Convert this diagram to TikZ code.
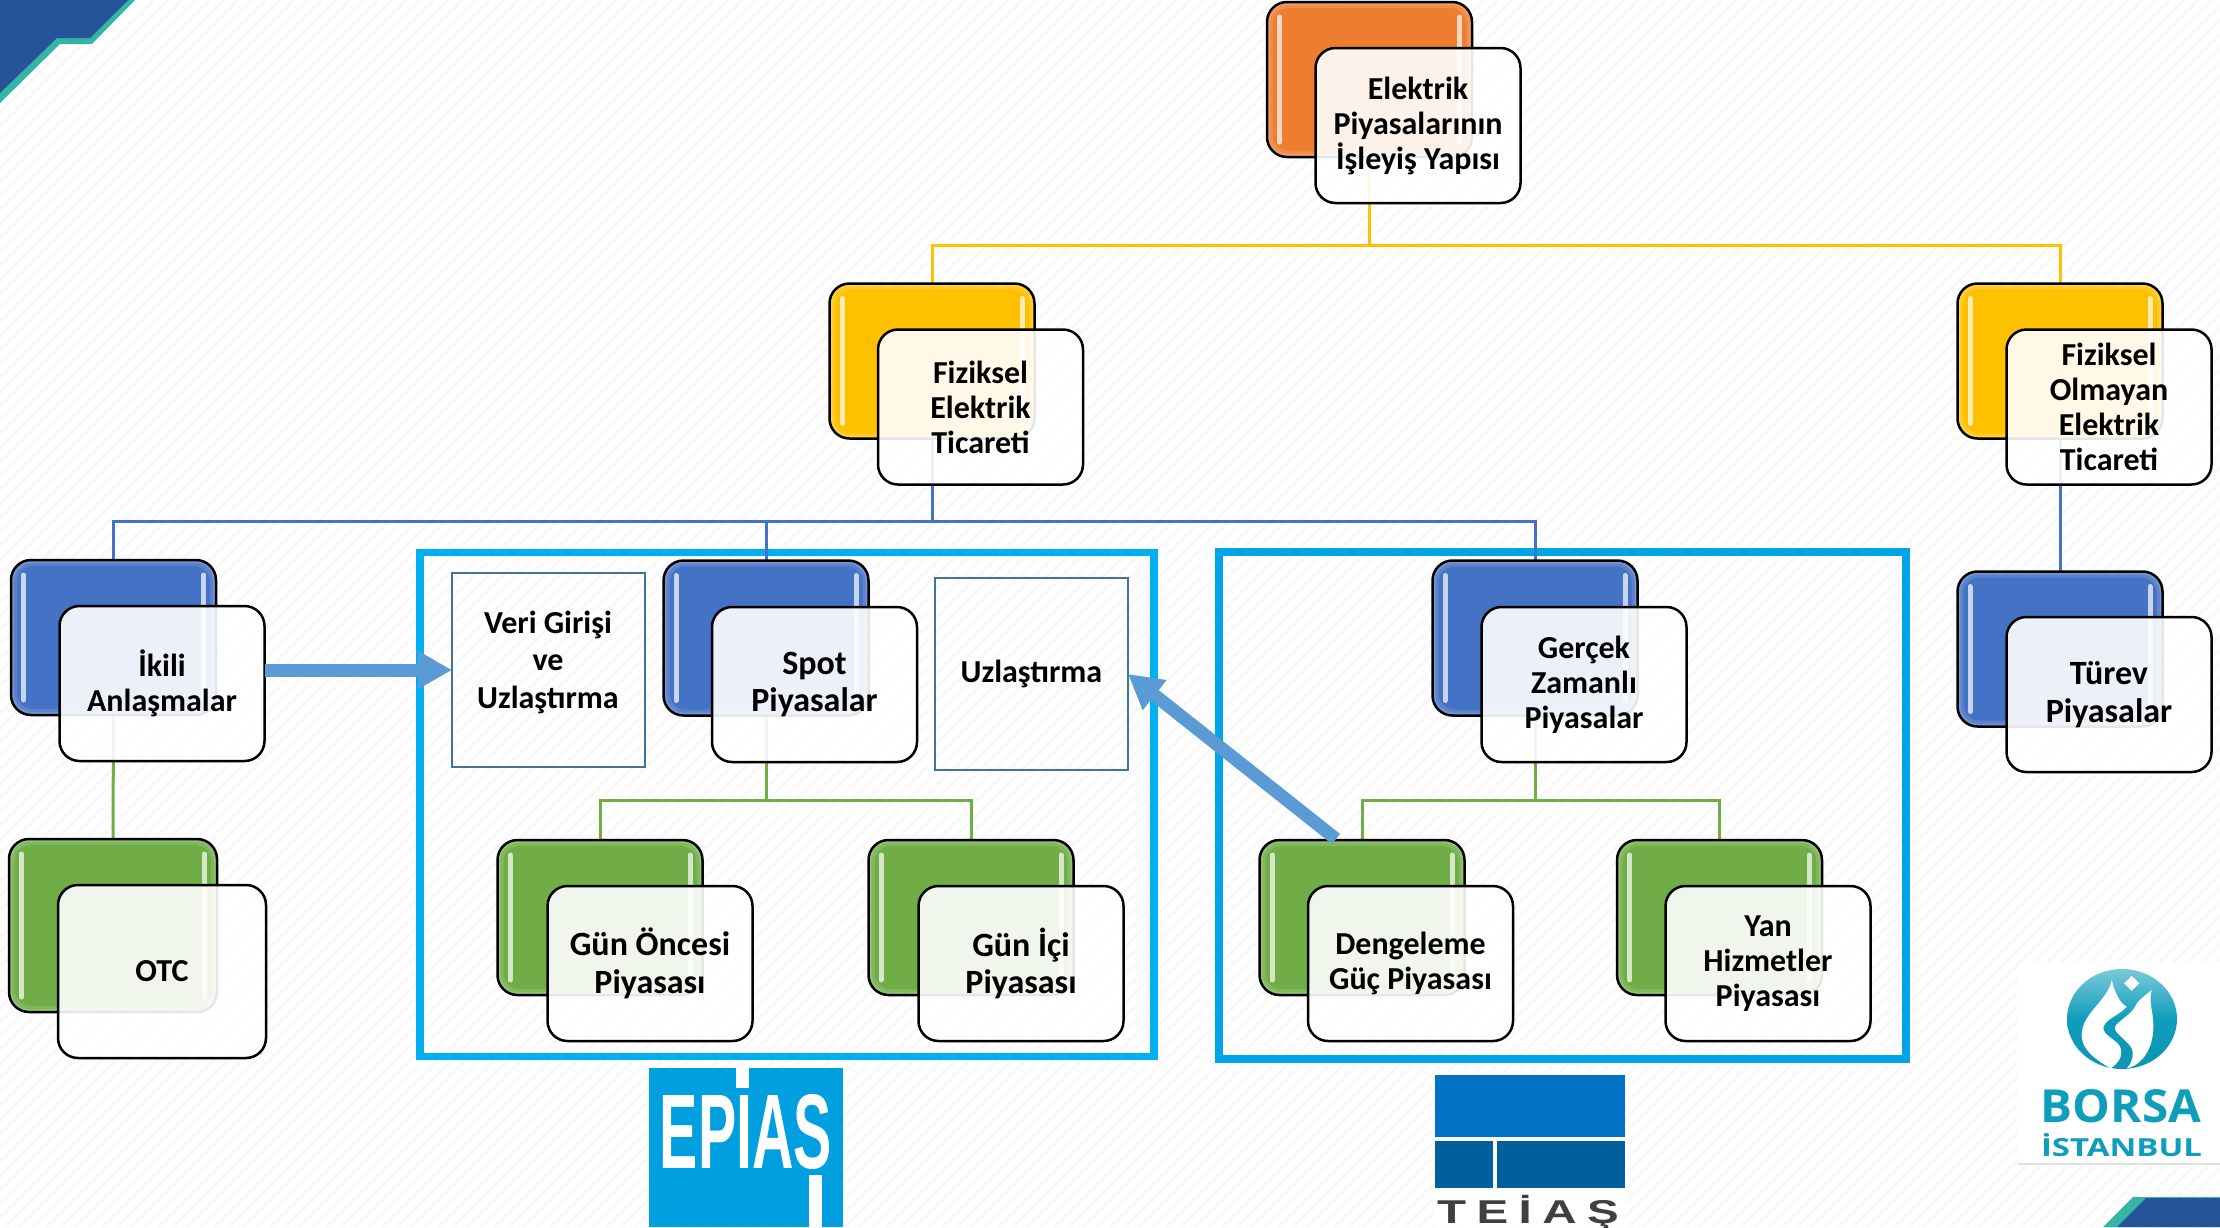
\documentclass[tikz,border=0pt]{standalone}
\usepackage{fontspec}
\usepackage{graphicx}
\setmainfont{Carlito}
\newfontfamily\logofont{Open Sans}
\newfontfamily\epiasfont{Liberation Sans}
\newfontfamily\teiasfont[LetterSpace=22]{Liberation Sans}
\usetikzlibrary{calc,arrows.meta}
\pgfdeclarelayer{under}
\pgfdeclarelayer{wires}
\pgfsetlayers{under,wires,main}
\definecolor{cOrange}{HTML}{ED7D31}
\definecolor{cYellow}{HTML}{FFC000}
\definecolor{cBlue}{HTML}{4472C4}
\definecolor{cGreen}{HTML}{70AD47}
\definecolor{cCyan}{HTML}{00B0F0}
\definecolor{cCyanB}{HTML}{00A5E8}
\definecolor{cArrow}{HTML}{5B9BD5}
\definecolor{cSteel}{HTML}{41719C}
\definecolor{cEpias}{HTML}{009FE0}
\definecolor{cTeiasA}{HTML}{0072C6}
\definecolor{cTeiasB}{HTML}{00609E}
\definecolor{cBorsa}{HTML}{0E9DBB}
\definecolor{cCornerB}{HTML}{25549B}
\definecolor{cCornerT}{HTML}{35B5A5}
\definecolor{cHatch}{HTML}{F9F9F9}
\tikzset{
  backbox/.style={rectangle,rounded corners=20pt,draw=black,line width=2.5pt,inner sep=0pt,outer sep=0pt,minimum width=205pt,minimum height=155pt},
  frontbox/.style={rectangle,rounded corners=20pt,draw=black,line width=2.5pt,fill=white,fill opacity=.9,text opacity=1,inner sep=0pt,outer sep=0pt,minimum width=205pt,minimum height=155pt,align=center,font=\bfseries},
  smalltx/.style={font=\fontsize{32}{35}\selectfont\bfseries},
  bigtx/.style={font=\fontsize{34}{37.5}\selectfont\bfseries},
  wire/.style={line width=3pt},
  framebox/.style={rectangle,draw=cCyan,line width=7.5pt,inner sep=0pt,outer sep=0pt},
  notebox/.style={rectangle,draw=cSteel,line width=2.5pt,inner sep=0pt,outer sep=0pt},
  notetext/.style={align=center,inner sep=0pt,font=\fontsize{32}{37.5}\selectfont\bfseries},
  bigarrow/.style={draw=cArrow,line width=13pt,-{Triangle[length=34pt,width=36pt]}},
  glow/.style={line width=5pt,line cap=round}
}
\newcommand{\boxpair}[7][]{%
  \node[backbox,fill=#5!75!white,#1] (#2b) at (#3) {};
  \fill[#5!88!white,rounded corners=18pt] ($(#2b.north west)+(3,3)$) rectangle ($(#2b.south east)+(-3,-3)$);
  \fill[#5,rounded corners=16pt] ($(#2b.north west)+(6,6)$) rectangle ($(#2b.south east)+(-6,-6)$);
  \draw[glow,#5!30!white] ($(#2b.north west)+(12.5,15)$) -- ($(#2b.south west)+(12.5,-15)$);
  \draw[glow,#5!30!white] ($(#2b.north east)+(-12.5,15)$) -- ($(#2b.south east)+(-12.5,-15)$);
  \node[frontbox,#6,#1] (#2f) at (#4) {#7};
  \ignorespaces}
\begin{document}
\begin{tikzpicture}[x=1pt,y=-1pt]
\useasboundingbox (0,0) rectangle (2220,1227);
\begin{pgfonlayer}{under}
  \fill[white] (0,0) rectangle (2220,1227);
  \begin{scope}
    \clip (0,0) rectangle (2220,1227);
    \foreach \k in {0,14,...,3460} { \draw[cHatch,line width=3pt] (\k,0) -- (\k-1227,1227); }
    % corners
    \fill[cCornerT] (0,0) -- (135,0) -- (92,44) -- (60,44) -- (0,103) -- cycle;
    \fill[cCornerB] (0,0) -- (128,0) -- (90,38) -- (57,38) -- (0,93) -- cycle;
    \fill[cCornerT] (2103,1227) -- (2133,1197) -- (2220,1197) -- (2220,1227) -- cycle;
    \fill[cCornerB] (2117,1227) -- (2146,1198) -- (2220,1198) -- (2220,1227) -- cycle;
    % EPIAS logo
    \fill[cEpias] (649,1068) rectangle (843,1227);
    \fill[white] (736,1068) rectangle (749,1088);
    \fill[white] (809,1175) rectangle (822,1227);
    \node[inner sep=0pt,text=white,font=\epiasfont\bfseries] (epias) at (746,1132) {\resizebox{172pt}{74pt}{EPIAS}};
    % TEIAS logo
    \fill[white] (1434,1072) rectangle (1625,1227);
    \fill[cTeiasA] (1435,1075) rectangle (1625,1137);
    \fill[cTeiasB] (1435,1141) rectangle (1493,1188);
    \fill[cTeiasB] (1497,1141) rectangle (1625,1188);
    \node[anchor=base,inner sep=0pt,text=black!75,font=\teiasfont\bfseries\fontsize{33}{33}\selectfont] (teias) at (1528,1223) {\scalebox{1.44}[1]{TEİAŞ}};
    % BORSA logo
    \fill[white] (2018,963) rectangle (2220,1163);
    \fill[black!12] (2018,1163) rectangle (2220,1165);
    \shade[top color=cBorsa!55!white,bottom color=cBorsa!95!black,middle color=cBorsa] (2122,1019) ellipse [x radius=55,y radius=50];
    \begin{scope}[shift={(1980,940)},x=.33333pt,y=-.33333pt]
      \fill[white] (395,120) .. controls (385,180) and (305,220) .. (305,285) .. controls (305,320) and (330,350) .. (392,385) .. controls (420,365) and (430,345) .. (420,320) .. controls (410,300) and (370,285) .. (370,265) .. controls (370,240) and (420,225) .. (440,200) .. controls (420,190) and (405,160) .. (395,120) -- cycle;
      \fill[white] (515,150) .. controls (490,170) and (470,185) .. (462,205) .. controls (440,235) and (400,250) .. (405,268) .. controls (415,290) and (455,310) .. (458,335) .. controls (460,360) and (450,375) .. (440,385) .. controls (490,375) and (520,320) .. (520,260) .. controls (520,210) and (505,190) .. (515,150) -- cycle;
      \fill[white] (455,108) -- (478,130) -- (455,152) -- (432,130) -- cycle;
    \end{scope}
    \node[inner sep=0pt,text=cBorsa,font=\logofont\bfseries] (borsa) at (2121,1106) {\resizebox{160pt}{33pt}{BORSA}};
    \node[inner sep=0pt,text=cBorsa,font=\logofont\bfseries] (istanbul) at (2121.5,1145.5) {\resizebox{161pt}{23pt}{İSTANBUL}};
  \end{scope}
  % frames
  \node[framebox,minimum width=734pt,minimum height=504pt] (frameL) at (787,804.5) {};
  \node[framebox,draw=cCyanB,minimum width=687pt,minimum height=507pt] (frameR) at (1562.5,805.5) {};
\end{pgfonlayer}

\boxpair{elektrik}{1369.5,79.5}{1418,125.5}{cOrange}{smalltx}{Elektrik\\Piyasalarının\\İşleyiş Yapısı}
\boxpair{fiziksel}{932,361}{980.5,407}{cYellow}{smalltx}{Fiziksel\\Elektrik\\Ticareti}
\boxpair{olmayan}{2060,361}{2109,407}{cYellow}{smalltx}{Fiziksel\\Olmayan\\Elektrik\\Ticareti}
\boxpair{ikili}{113.5,637.5}{162,683.5}{cBlue}{smalltx}{İkili\\Anlaşmalar}
\boxpair[minimum width=208pt,minimum height=173pt]{otc}{113,925.5}{162,971.5}{cGreen}{smalltx}{OTC}
\boxpair{spot}{766,638}{814.5,684.5}{cBlue}{bigtx}{Spot\\Piyasalar}
\boxpair{gercek}{1535,638}{1584,684.5}{cBlue}{smalltx}{Gerçek\\Zamanlı\\Piyasalar}
\boxpair{turev}{2060,649}{2109,694.5}{cBlue}{bigtx}{Türev\\Piyasalar}
\boxpair{gunoncesi}{600,917.5}{650,963.5}{cGreen}{bigtx}{Gün Öncesi\\Piyasası}
\boxpair{gunici}{971,917.5}{1021,963.5}{cGreen}{bigtx}{Gün İçi\\Piyasası}
\boxpair{dengeleme}{1362,917.5}{1410.5,963.5}{cGreen}{smalltx}{Dengeleme\\Güç Piyasası}
\boxpair{yan}{1719.5,917.5}{1768,963.5}{cGreen}{smalltx}{Yan\\Hizmetler\\Piyasası}

\node[notebox,minimum width=193pt,minimum height=194pt] (veri) at (548.5,670) {};
\node[notetext] (veritext) at (548,662) {Veri Girişi\\ve\\Uzlaştırma};
\node[notebox,minimum width=193pt,minimum height=192pt,align=center,font=\fontsize{32}{37}\selectfont\bfseries] (uzlastirma) at (1031.5,674) {Uzlaştırma};

\begin{pgfonlayer}{wires}
  \draw[wire,cYellow] (elektrikb.south) -- ($(elektrikb.south)+(0,88)$) coordinate (busA);
  \draw[wire,cYellow] (fizikselb.north) |- (busA) -| (olmayanb.north);
  \draw[wire,cBlue] (fizikselb.south) -- ($(fizikselb.south)+(0,83)$) coordinate (busB);
  \draw[wire,cBlue] (ikilib.north) |- (busB) -| (gercekb.north);
  \draw[wire,cBlue] (spotb.north) -- (spotb.north |- busB);
  \draw[wire,cBlue] (olmayanb.south) -- (turevb.north);
  \draw[wire,cGreen] (ikilib.south) -- (otcb.north);
  \draw[wire,cGreen] (spotb.south) -- ($(spotb.south)+(0,85)$) coordinate (busC);
  \draw[wire,cGreen] (gunoncesib.north) |- (busC) -| (gunicib.north);
  \draw[wire,cGreen] (gercekb.south) -- ($(gercekb.south)+(0,85)$) coordinate (busD);
  \draw[wire,cGreen] (dengelemeb.north) |- (busD) -| (yanb.north);
\end{pgfonlayer}

\draw[bigarrow] (ikilif.east |- veri.west) -- (veri.west);
\draw[bigarrow] ($(dengelemeb.north)+(-26,-1)$) coordinate (dtail) -- (uzlastirma.east);
\end{tikzpicture}
\end{document}
